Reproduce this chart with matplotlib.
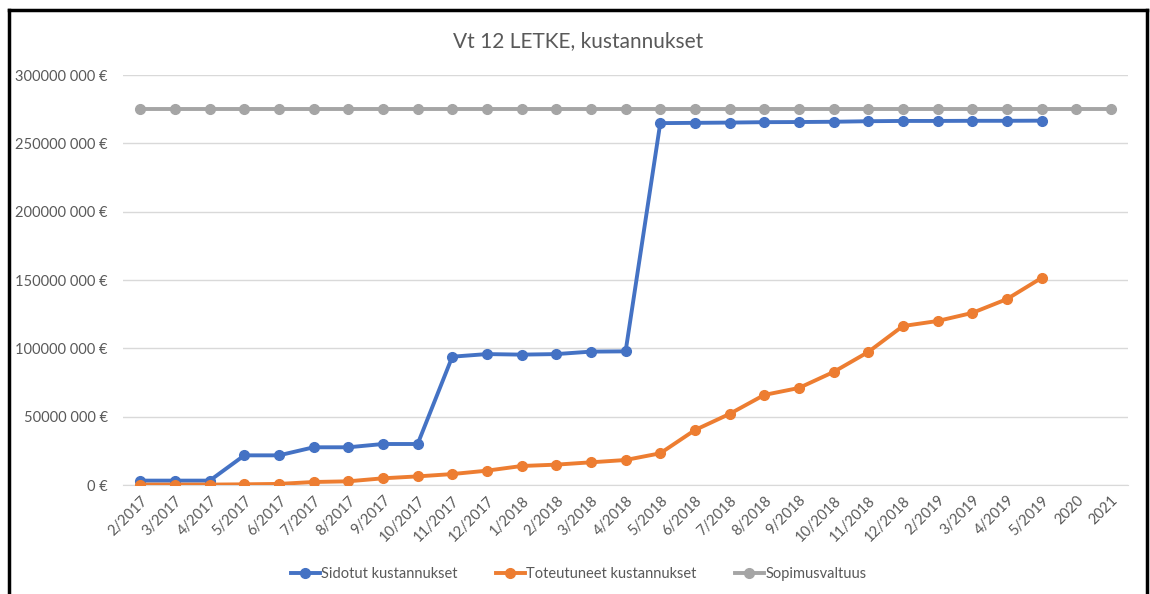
import numpy as np
import matplotlib.pyplot as plt
from matplotlib.lines import Line2D
from matplotlib.ticker import FuncFormatter, MultipleLocator

plt.rcParams['font.family'] = ['Lato', 'DejaVu Sans']

categories = ['2/2017', '3/2017', '4/2017', '5/2017', '6/2017', '7/2017', '8/2017',
              '9/2017', '10/2017', '11/2017', '12/2017', '1/2018', '2/2018', '3/2018',
              '4/2018', '5/2018', '6/2018', '7/2018', '8/2018', '9/2018', '10/2018',
              '11/2018', '12/2018', '2/2019', '3/2019', '4/2019', '5/2019', '2020', '2021']

# values in millions of euros
sidotut = [3.2, 3.2, 3.2, 21.7, 21.7, 27.6, 27.6, 30.0, 30.0, 93.9, 95.8, 95.4, 95.8,
           97.6, 97.8, 264.8, 265.0, 265.2, 265.5, 265.6, 265.8, 266.2, 266.4, 266.4,
           266.5, 266.5, 266.6, None, None]
toteutuneet = [0.3, 0.3, 0.3, 0.5, 0.8, 2.2, 2.7, 4.9, 6.3, 8.0, 10.5, 13.9, 14.9,
               16.6, 18.3, 23.2, 40.2, 52.0, 65.9, 71.0, 82.7, 97.3, 116.3, 120.0,
               125.9, 136.0, 151.5, None, None]
sopimusvaltuus = [275.0] * 29

series = [
    ('Sidotut kustannukset', sidotut, '#4472c4'),
    ('Toteutuneet kustannukset', toteutuneet, '#ed7d31'),
    ('Sopimusvaltuus', sopimusvaltuus, '#a5a5a5'),
]

fig = plt.figure(figsize=(11.5, 5.94), dpi=100)
ax = fig.add_axes([0.107, 0.1835, 0.874, 0.6902])

x = np.arange(len(categories))
handles = []
for name, vals, col in series:
    y = np.array([np.nan if v is None else v * 1e6 for v in vals])
    ax.plot(x, y, color=col, lw=2.8, marker='o', ms=7, solid_capstyle='round', zorder=3)
    handles.append(Line2D([0], [0], color=col, lw=2.8, marker='o', ms=7, label=name))

ax.set_xlim(-0.5, len(categories) - 0.5)
ax.set_ylim(0, 300e6)
ax.yaxis.set_major_locator(MultipleLocator(50e6))


def euro(v, pos):
    v = int(round(v))
    if v == 0:
        return '0 €'
    return f'{v // 1000} {v % 1000:03d} €'


ax.yaxis.set_major_formatter(FuncFormatter(euro))
ax.set_xticks(x)
ax.set_xticklabels(categories, rotation=45, ha='right', rotation_mode='anchor')
ax.tick_params(axis='both', length=0, colors='#595959', labelsize=10.5)
ax.tick_params(axis='y', pad=11)
ax.tick_params(axis='x', pad=6)
ax.grid(axis='y', color='#d9d9d9', lw=1)
ax.set_axisbelow(True)
for s in ['top', 'right', 'left']:
    ax.spines[s].set_visible(False)
ax.spines['bottom'].set_color('#d9d9d9')

fig.text(0.503, 0.93, 'Vt 12 LETKE, kustannukset', ha='center', va='center',
         fontsize=15, color='#595959')

fig.legend(handles=handles, loc='center', bbox_to_anchor=(0.503, 0.034), ncol=3,
           frameon=False, fontsize=10.5, handlelength=2, columnspacing=2.6,
           handletextpad=0.1, labelcolor='#595959')

# outer black frame (left, top, right)
lw = 2.5
fig.add_artist(Line2D([9 / 1150, 9 / 1150], [0, 1 - 9.5 / 594], color='black', lw=lw,
                      transform=fig.transFigure))
fig.add_artist(Line2D([9 / 1150, 1147 / 1150], [1 - 9.5 / 594, 1 - 9.5 / 594],
                      color='black', lw=lw, transform=fig.transFigure))
fig.add_artist(Line2D([1147 / 1150, 1147 / 1150], [0, 1 - 9.5 / 594], color='black',
                      lw=lw, transform=fig.transFigure))

fig.savefig('out.png', dpi=100)
